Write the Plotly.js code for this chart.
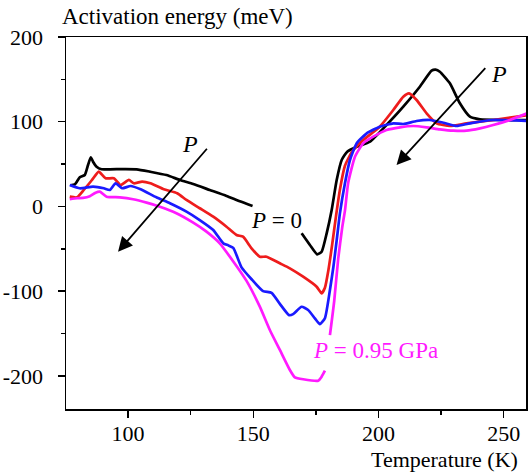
<!DOCTYPE html>
<html>
<head>
<meta charset="utf-8">
<script src="https://cdn.plot.ly/plotly-3.0.1.min.js"></script>
<style>html,body{margin:0;padding:0;background:#fff;}#chart{width:529px;height:472px;}</style>
</head>
<body>
<div id="chart"></div>
<script>
// Temperature (K) and activation energy (meV)
const blackT = [77, 78.7, 80.7, 82.7, 84.0, 85.1, 86.0, 87.4, 89.4, 92.7, 98, 103.4, 108.7, 115.3, 120.7, 126, 132.6, 139.3, 144.6, 149.7, null, 169.3, 172.6, 175.5, 177.3, 179.3, 181.3, 183.3, 185.3, 187.5, 191.3, 196.6, 203.2, 209.9, 216.5, 221.2, 222.8, 224.5, 228.5, 232.5, 236.5, 240.5, 248.5, 260];
const blackE = [25, 26, 34.4, 37.1, 48.9, 58, 52.8, 46.9, 43.8, 43.8, 44, 43.8, 41, 37, 31.2, 26.4, 19.4, 12.3, 6, 0.5, null, -31.8, -45.6, -56.6, -53.5, -31.8, -4.3, 31.2, 54.8, 64.6, 70.5, 76.4, 96.1, 117.7, 141.3, 160.2, 161.5, 159, 145.3, 121.7, 105.9, 102.8, 102, 102];

const redT = [76.7, 79.6, 82.3, 85.6, 88.3, 91, 94.3, 97, 100.3, 102.3, 105.6, 108.9, 114.3, 119.6, 123.3, 128.6, 134, 139.3, 143.3, 145.9, 149.3, 152.6, 155.3, 160.6, 164.6, 169.9, 175.3, 177.3, 178.6, 180, 181.5, 183, 184.6, 186.6, 189.3, 193.9, 200.5, 205.9, 209.9, 212.2, 215.2, 219.2, 223.2, 228.5, 235.2, 245.8, 260];
const redE = [11.5, 10.7, 19.4, 31.2, 41, 33.2, 33.2, 25.3, 31.2, 27.3, 29.2, 27.3, 20.2, 15.5, 7.6, -2.2, -12.2, -24, -33.8, -35.8, -49.5, -59.4, -59.4, -67.2, -73.1, -83, -94.8, -102.6, -96, -75, -45, -12, 20, 48, 64, 78.4, 94.1, 113.8, 129.5, 133.4, 125.6, 109.9, 98.1, 94.9, 98.1, 102, 107.9];

const blueT = [76.7, 80.7, 86, 90.3, 92.7, 95, 97.6, 101, 105, 111.3, 116.7, 123.3, 128.6, 134, 138, 140, 142, 145.3, 149.3, 153.9, 157.3, 160.6, 164.3, 165.9, 169.3, 171.9, 174.6, 176.6, 178.6, 180.6, 182, 183.3, 184.6, 186.6, 188.6, 191.3, 195.3, 200.5, 205.9, 209.9, 215.2, 220.5, 225.9, 231.2, 236.5, 245.8, 260];
const blueE = [25.3, 21.4, 23.3, 21.4, 19.4, 27.3, 21.4, 24.1, 20.2, 10.7, 3.7, -6.2, -16.1, -27.9, -43.6, -46, -49, -72, -86, -100, -102, -115, -128.4, -127.2, -118.5, -122.3, -132.2, -139, -132, -98.7, -71, -40, -8, 27.3, 54.8, 74.5, 86.3, 94.1, 98.1, 97.3, 100.8, 102, 98.8, 94.9, 98.1, 102, 100.8];

const magT = [76.7, 79.6, 82, 84.7, 87, 88.7, 91.4, 96.7, 102, 107.4, 112.7, 119.3, 126, 131.3, 136.6, 142, 147.3, 152.6, 156.6, 160.6, 164.6, 166.6, 169.9, 175.9, 177.3, 178.6, null, 180.6, 182.3, 183.9, 185.5, 186.6, 187.9, 190.6, 193.9, 197.9, 203.2, 208.6, 213.9, 219.2, 224.5, 229.9, 235.2, 240.5, 245.8, 252.5, 260];
const magE = [8.4, 9.6, 10, 12, 16.2, 17.4, 11.5, 10.7, 8.4, 4.4, -0.4, -8.1, -19.2, -29.8, -43.6, -65, -88, -118.4, -145.9, -169.5, -193.1, -201.8, -204.1, -205.8, -201, -194, null, -152, -112, -62, -25, -5, 28, 58.7, 74.5, 82.3, 90.2, 93.4, 94.9, 93.4, 91, 89.4, 89.4, 92.2, 96.1, 102, 110.6];

const xTickVals = [100, 150, 200, 250];
const xTickText = ['100', '150', '200', '250'];
const xMinorVals = [125, 175, 225];
const yTickVals = [200, 100, 0, -100, -200];
const yTickText = ['200', '100', '0', '-100', '-200'];
const yMinorVals = [150, 50, -50, -150];

const FONT = 'Liberation Serif, Times New Roman, serif';

function tr(x, y, color) {
  return {x: x, y: y, type: 'scatter', mode: 'lines', connectgaps: false,
          line: {color: color, width: 2.7, shape: 'spline', smoothing: 0.5}, hoverinfo: 'skip'};
}

const data = [
  tr(blackT, blackE, '#000000'),
  tr(redT, redE, '#ee1c1c'),
  tr(blueT, blueE, '#1a1aff'),
  tr(magT, magE, '#ff1aff')
];

const layout = {
  width: 529, height: 472,
  margin: {l: 66, r: 3, t: 37, b: 63},
  paper_bgcolor: '#ffffff', plot_bgcolor: '#ffffff',
  showlegend: false,
  font: {family: FONT, size: 22, color: '#000'},
  xaxis: {
    range: [75.2, 258.9], showgrid: false, zeroline: false,
    showline: true, linecolor: '#000', linewidth: 1.5, mirror: true,
    tickmode: 'array', tickvals: xTickVals, ticktext: xTickText,
    ticks: 'outside', ticklen: 7, tickwidth: 1.5, tickcolor: '#000',
    ticklabelstandoff: -3,
    minor: {tickmode: 'array', tickvals: xMinorVals, ticks: 'outside', ticklen: 4, tickwidth: 1.5, tickcolor: '#000'},
    tickfont: {family: FONT, size: 22, color: '#000'}
  },
  yaxis: {
    range: [-239.2, 200], showgrid: false, zeroline: false,
    showline: true, linecolor: '#000', linewidth: 1.5, mirror: true,
    tickmode: 'array', tickvals: yTickVals, ticktext: yTickText,
    ticks: 'outside', ticklen: 7, tickwidth: 1.5, tickcolor: '#000',
    ticklabelstandoff: 10,
    minor: {tickmode: 'array', tickvals: yMinorVals, ticks: 'outside', ticklen: 4, tickwidth: 1.5, tickcolor: '#000'},
    tickfont: {family: FONT, size: 22, color: '#000'}
  },
  annotations: [
    {xref: 'paper', yref: 'paper', x: -0.013, y: 1.056, xanchor: 'left', yanchor: 'middle',
     text: 'Activation energy (meV)', showarrow: false, font: {family: FONT, size: 23, color: '#000'}},
    {xref: 'paper', yref: 'paper', x: 0.987, y: -0.136, xanchor: 'right', yanchor: 'middle',
     text: 'Temperature (K)', showarrow: false, font: {family: FONT, size: 22, color: '#000'}},
    {xref: 'x', yref: 'y', x: 159.3, y: -16.1, text: '<i>P</i> = 0', showarrow: false,
     font: {family: FONT, size: 23, color: '#000'}},
    {xref: 'x', yref: 'y', x: 198.6, y: -170.2, text: '<i>P</i> = 0.95 GPa', showarrow: false,
     font: {family: FONT, size: 23, color: '#ff1aff'}},
    {xref: 'x', yref: 'y', x: 124.7, y: 73.5, text: '<i>P</i>', showarrow: false,
     font: {family: FONT, size: 24, color: '#000'}},
    {xref: 'x', yref: 'y', x: 248.1, y: 156.3, text: '<i>P</i>', showarrow: false,
     font: {family: FONT, size: 24, color: '#000'}},
    {xref: 'x', yref: 'y', axref: 'x', ayref: 'y', x: 96.0, y: -53.5, ax: 132.0, ay: 69.8,
     text: '', showarrow: true, arrowhead: 2, arrowsize: 1.6, arrowwidth: 1.8, arrowcolor: '#000', standoff: 0, startstandoff: 0},
    {xref: 'x', yref: 'y', axref: 'x', ayref: 'y', x: 207.2, y: 48.9, ax: 243.2, ay: 164.9,
     text: '', showarrow: true, arrowhead: 2, arrowsize: 1.6, arrowwidth: 1.8, arrowcolor: '#000', standoff: 0, startstandoff: 0}
  ]
};

Plotly.newPlot('chart', data, layout, {staticPlot: true, displayModeBar: false});
</script>
</body>
</html>
